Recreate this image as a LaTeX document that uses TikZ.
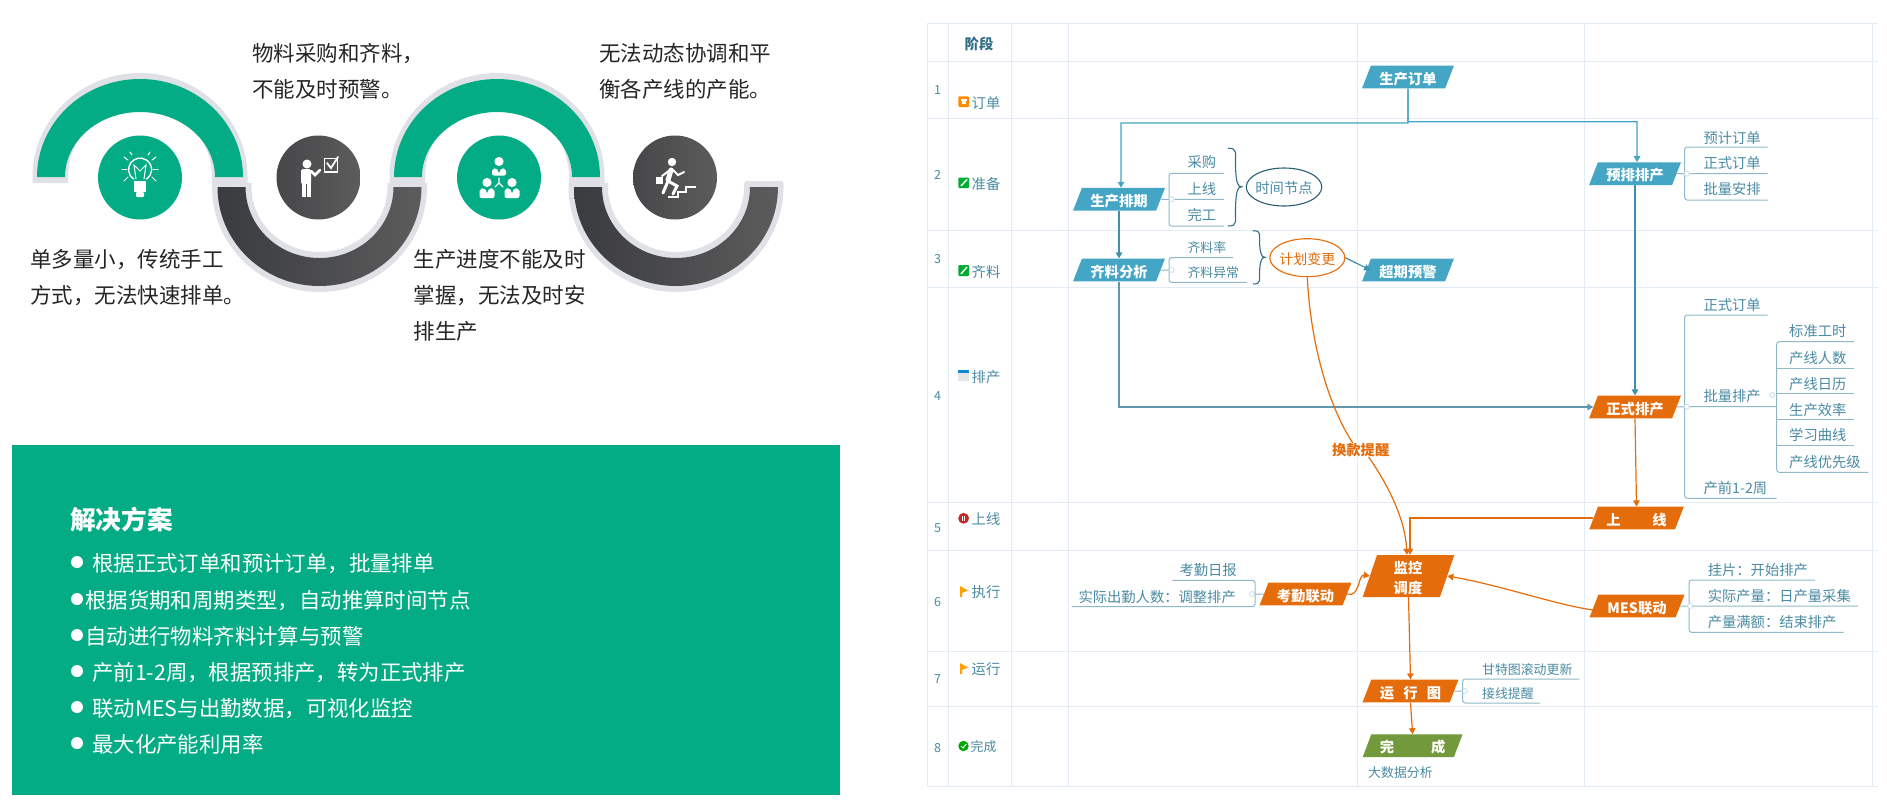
\documentclass[tikz,border=0pt]{standalone}
\usepackage{fontspec}
\setmainfont{Noto Sans CJK SC}
\usetikzlibrary{arrows.meta,shapes.geometric,calc}
\definecolor{cgreen}{HTML}{03AC84}
\definecolor{cring}{HTML}{DFE1E6}
\definecolor{cdarkL}{HTML}{3A3B3F}
\definecolor{cdarkM}{HTML}{555555}
\definecolor{cdarkR}{HTML}{5C5C5C}
\definecolor{cblue}{HTML}{45A5C4}
\definecolor{corange}{HTML}{E46C0A}
\definecolor{colive}{HTML}{729A3D}
\definecolor{cgrid}{HTML}{E3EBF5}
\definecolor{cteal}{HTML}{4A8BA3}
\definecolor{cbranch}{HTML}{8FB9C9}
\definecolor{cflow}{HTML}{3F90AC}
\definecolor{cflowd}{HTML}{5F97AB}
\definecolor{cnavy}{HTML}{2F6F86}
\definecolor{cpale}{HTML}{C8DDE7}
\tikzset{
  big/.style={font=\fontsize{21.5}{36}\selectfont,anchor=west,align=left,inner sep=0pt,text=black!85,yshift=-1.5pt},
  itemtext/.style={font=\fontsize{21.4}{24}\selectfont,anchor=west,inner sep=0pt,text=white,yshift=-1.5pt},
  lbl/.style={font=\fontsize{14.3}{16}\selectfont,anchor=west,inner sep=0pt,text=cteal,yshift=-1pt},
  lblsmall/.style={font=\fontsize{12.9}{15}\selectfont,anchor=west,inner sep=0pt,text=cteal,yshift=-1pt},
  rownum/.style={font=\fontsize{12.5}{14}\selectfont,inner sep=0pt,text=cteal,yshift=-1pt},
  parashape/.style={trapezium,trapezium left angle=64,trapezium right angle=116,trapezium stretches=true,
    minimum height=22.7pt,minimum width=92pt,inner sep=0pt,text=white,
    font=\fontsize{14.3}{20}\bfseries\selectfont},
  para/.style={parashape,text height=14pt,text depth=0pt},
  paratext/.style={inner sep=0pt,text=white,yshift=-1pt,font=\fontsize{14.3}{20}\bfseries\selectfont},
  grid/.style={draw=cgrid,line width=0.9pt},
  branch/.style={draw=cbranch,line width=1pt,rounded corners=2.5pt},
  tick/.style={circle,draw=cpale,fill=white,line width=0.8pt,minimum size=5pt,inner sep=0pt},
  flow/.style={draw=cblue,line width=1.2pt,-{Triangle[length=6pt,width=6.5pt]}},
  flowo/.style={draw=corange,line width=1.2pt,-{Triangle[length=6pt,width=6.5pt]}},
  icon/.style={draw=white,line width=1.4pt,line cap=round},
  ovalshape/.style={ellipse,line width=1.1pt,inner sep=0pt,minimum height=38pt},
}
\newcommand\upperarc[2]{%
  \fill[cring] ({#1-107.5},183) -- ({#1-107.5},#2) arc[start angle=180,end angle=0,x radius=107.5pt,y radius=104pt]
     -- ({#1+107.5},183) -- ({#1+72},183) -- ({#1+72},#2) arc[start angle=0,end angle=180,x radius=72pt,y radius=72pt]
     -- ({#1-72},183) -- cycle;
  \fill[cgreen] ({#1-103},#2) arc[start angle=180,end angle=0,x radius=103pt,y radius=98pt]
     -- ({#1+75},#2) arc[start angle=0,end angle=180,x radius=75pt,y radius=65pt] -- cycle;
}
\newcommand\lowerarc[2]{%
  \fill[cring] ({#1-107.5},183) -- ({#1-107.5},#2) arc[start angle=180,end angle=360,x radius=107.5pt,y radius=105pt]
     -- ({#1+107.5},183) -- ({#1+68},183) -- ({#1+68},#2) arc[start angle=360,end angle=180,x radius=68pt,y radius=65pt]
     -- ({#1-68},183) -- cycle;
  \shade[left color=cdarkL,middle color=cdarkM,right color=cdarkR] ({#1-102},#2) arc[start angle=180,end angle=360,x radius=102pt,y radius=99pt]
     -- ({#1+74},#2) arc[start angle=360,end angle=180,x radius=74pt,y radius=71pt] -- cycle;
}
\newcommand\curly[5]{%
  \draw[cnavy,line width=1.1pt] (#1,#3) .. controls ({#1+.75*(#2-#1)},#3) and ({#1+.5*(#2-#1)},{#3+4})
    .. ({#1+.55*(#2-#1)},{(#3+#4)/2}) .. controls ({#1+.6*(#2-#1)},{#4-4}) and ({#1+.7*(#2-#1)},#4) .. (#2,#4)
    .. controls ({#1+.7*(#2-#1)},#4) and ({#1+.6*(#2-#1)},{#4+4})
    .. ({#1+.55*(#2-#1)},{(#4+#5)/2}) .. controls ({#1+.5*(#2-#1)},{#5-4}) and ({#1+.75*(#2-#1)},#5) .. (#1,#5);
}
\newcommand\bracketline[6]{%
  \coordinate (#1a) at (#4,#3); \coordinate (#1b) at (#2,#3);
  \coordinate (#1c) at (#2,#5); \coordinate (#1d) at (#6,#5);
  \draw[branch] (#1a) -- (#1b) -- (#1c) -- (#1d);
}
\newcommand\bust[5]{%
  \fill[white] (#1,#2) circle[radius=4.6pt];
  \fill[white,rounded corners=2pt] ({#1-#5},#4) -- ({#1-#5},#3) -- ({#1-2},{#3-1}) -- (#1,{#3+5}) -- ({#1+2},{#3-1}) -- ({#1+#5},#3) -- ({#1+#5},#4) -- cycle;
}
\begin{document}
\begin{tikzpicture}[x=1pt,y=-1pt]
\useasboundingbox (0,0) rectangle (1887,807);
\fill[white] (0,0) rectangle (1887,807);
%%%% Left: wave
\upperarc{140}{177}
\upperarc{497}{177}
\lowerarc{319.5}{187}
\lowerarc{676}{187}
\fill[cring] (745,181) rectangle (783,187);
\node[circle,minimum size=84pt,inner sep=0pt,fill=cgreen] (c1) at (140,177.5) {};
\shade[left color=cdarkL!55!cdarkM,right color=cdarkR] (318.5,177.5) circle[radius=42pt];
\node[circle,minimum size=84pt,inner sep=0pt,fill=cgreen] (c3) at (499,177.5) {};
\shade[left color=cdarkL!55!cdarkM,right color=cdarkR] (675,177.5) circle[radius=42pt];
% bulb
\draw[icon] (133.5,179) arc[start angle=235,end angle=-55,radius=11.5pt];
\draw[icon,line width=1pt] (136,179) -- (134,165) -- (140,171) -- (146,165) -- (144,179);
\fill[white] (134,181) rectangle (146,192);
\fill[white,rounded corners=1pt] (136,192) rectangle (144,197);
\foreach \a/\b/\c/\d in {122/169/127/169, 158/169/153/169, 124/157/128/160, 156/157/152/160, 124/181/128/177, 156/181/152/177, 130/152/132/155, 150/152/148/155}
  \draw[icon,line width=1pt] (\a,\b) -- (\c,\d);
% presenter
\fill[white] (307,164) circle[radius=4.5pt];
\fill[white,rounded corners=1.5pt] (301,169) rectangle (311,184);
\fill[white] (302,183) rectangle (306,197);
\fill[white] (307,183) rectangle (311,197);
\draw[icon,line width=2.5pt] (311,171) -- (315,175) -- (320,170);
\draw[icon,line width=1.2pt,line cap=butt] (324.5,158.5) rectangle (337.5,172);
\draw[icon,line width=1.8pt] (327,163) -- (331,168) -- (338,157);
% org chart
\bust{499}{161.5}{169}{175.5}{7}
\bust{487}{182.5}{189}{198}{7.5}
\bust{512}{182.5}{189}{198}{7.5}
\draw[icon,line width=1.3pt] (499,178) -- (499,183) -- (495,187);
\draw[icon,line width=1.3pt] (499,183) -- (503,187);
% runner
\fill[white] (672,162) circle[radius=4.2pt];
\draw[icon,line width=5pt] (671,170) -- (668,180);
\draw[icon,line width=3pt] (668,181) -- (677,186) -- (673,194);
\draw[icon,line width=3pt] (668,181) -- (663,193);
\draw[icon,line width=2pt] (672,169) -- (678,175) -- (684,172);
\draw[icon,line width=2pt] (670,170) -- (662,176);
\fill[white] (656,177) rectangle (663,184);
\draw[icon,line width=2pt,line cap=butt] (668,197) -- (678,197) -- (678,192) -- (686,192) -- (686,187) -- (696,187);
% left texts
\node[big] (t1) at (30,276) {单多量小，传统手工\\方式，无法快速排单。};
\node[big] (t2) at (252,69.5) {物料采购和齐料，\\不能及时预警。};
\node[big] (t3) at (413.5,294) {生产进度不能及时\\掌握，无法及时安\\排生产};
\node[big] (t4) at (599,69.5) {无法动态协调和平\\衡各产线的产能。};
%%%% Solution panel
\fill[cgreen] (12,445) rectangle (839.5,795);
\node[anchor=west,inner sep=0pt,text=white,yshift=-1.5pt,font=\fontsize{25.7}{28}\bfseries\selectfont] (sol) at (70,518) {解决方案};
\foreach \yy in {562,599,635,671,707,743} \fill[white] (77,\yy) circle[radius=6pt];
\node[itemtext] (i1) at (92,562) {根据正式订单和预计订单，批量排单};
\node[itemtext] (i2) at (85,599) {根据货期和周期类型，自动推算时间节点};
\node[itemtext] (i3) at (85,635) {自动进行物料齐料计算与预警};
\node[itemtext] (i4) at (92,671) {产前1-2周，根据预排产，转为正式排产};
\node[itemtext] (i5) at (92,707) {联动MES与出勤数据，可视化监控};
\node[itemtext] (i6) at (92,743) {最大化产能利用率};
%%%% Grid
\foreach \xx in {927.3,948.3,1011.7,1068.3,1357.3,1584,1872.7} \draw[grid] (\xx,23.3) -- (\xx,786.7);
\foreach \yy in {23.3,61.7,118.3,230,287.3,502.7,550.7,651.3,706,786.7} \draw[grid] (927.3,\yy) -- (1878,\yy);
\node[text=cnavy,inner sep=0pt,yshift=-1pt,font=\fontsize{14.3}{16}\bfseries\selectfont] (hdr) at (979,42.7) {阶段};
\node[rownum] (n1) at (937.7,89) {1};
\node[rownum] (n2) at (937.7,174) {2};
\node[rownum] (n3) at (937.7,258) {3};
\node[rownum] (n4) at (937.7,395) {4};
\node[rownum] (n5) at (937.7,526.7) {5};
\node[rownum] (n6) at (937.7,600.7) {6};
\node[rownum] (n7) at (937.7,678) {7};
\node[rownum] (n8) at (937.7,746.7) {8};
\node[lbl] (s1) at (971.5,101.7) {订单};
\node[lbl] (s2) at (971.5,182.7) {准备};
\node[lbl] (s3) at (971.5,270.7) {齐料};
\node[lbl] (s4) at (971.5,376) {排产};
\node[lbl] (s5) at (971.5,518.3) {上线};
\node[lbl] (s6) at (971.5,590.7) {执行};
\node[lbl] (s7) at (971.5,667.7) {运行};
\node[lblsmall] (s8) at (970.5,746) {完成};
% stage icons
\fill[orange!90!yellow,rounded corners=1pt] (958.3,96.3) rectangle (969,107);
\fill[white] (960.5,99) rectangle (967,100.5); \fill[white] (961.5,100.5) rectangle (966,103.5);
\fill[green!60!black!80!cyan,rounded corners=1pt] (958.3,177.5) rectangle (969,188);
\draw[white,line width=1.4pt] (961,186) -- (967,179.5);
\fill[green!60!black!80!cyan,rounded corners=1pt] (958.3,265) rectangle (969,276);
\draw[white,line width=1.4pt] (961,274) -- (967,267);
\fill[black!10] (958.3,370) rectangle (969,381);
\fill[cyan!70!blue] (958.3,369.5) rectangle (969,373);
\fill[red!75!black!85!white] (963.6,518.3) circle[radius=5.4pt];
\fill[white] (961.8,515.5) rectangle (963,521); \fill[white] (964.2,515.5) rectangle (965.4,521);
\foreach \fy in {586,663} {
  \fill[orange!75!yellow] (960,\fy) -- (968,{\fy+4.5}) -- (962,{\fy+7}) -- (962,{\fy+11}) -- (960,{\fy+11}) -- cycle;
}
\fill[green!65!black] (963.5,746) circle[radius=5.2pt];
\draw[white,line width=1pt] (961,746) -- (963,748) -- (966.3,744);
%%%% Flow nodes
\node[para,fill=cblue] (order) at (1408,77) {生产订单};
\node[para,fill=cblue] (plan) at (1119,199.3) {生产排期};
\node[para,fill=cblue] (mat) at (1119,270) {齐料分析};
\node[para,fill=cblue] (warn) at (1408,270) {超期预警};
\node[para,fill=cblue] (pre) at (1635,173.7) {预排排产};
\node[para,fill=corange] (formal) at (1635,407) {正式排产};
\node[para,fill=corange,minimum width=95pt] (online) at (1636.5,518) {上\hspace{31.5pt}线};
\node[para,fill=corange] (att) at (1305.5,594) {考勤联动};
\node[parashape,fill=corange,minimum height=42pt] (mon) at (1408.5,576) {\phantom{监控}};
\node[paratext] (mon1) at (1408,566.7) {监控};
\node[paratext] (mon2) at (1408,586.7) {调度};
\node[para,fill=corange,minimum width=95pt] (mes) at (1637,606) {MES联动};
\node[para,fill=corange,minimum width=96pt] (run) at (1410.5,691) {运\hspace{9.3pt}行\hspace{9.3pt}图};
\node[para,fill=colive,minimum width=100pt] (done) at (1412.6,745.7) {完\hspace{37pt}成};
\node[lblsmall] (bd) at (1368,772) {大数据分析};
% ellipses
\node[ovalshape,draw=cnavy!85!black,minimum width=75.5pt,label={[text=cteal,inner sep=0pt,yshift=-1pt,font=\fontsize{14.3}{16}\selectfont]center:时间节点}] (tn) at (1284,187) {};
\node[ovalshape,draw=corange,minimum width=75pt,label={[text=corange,inner sep=0pt,yshift=-1pt,font=\fontsize{14}{16}\selectfont]center:计划变更}] (cp) at (1307.3,257.7) {};
\node[inner sep=0pt,text=corange,yshift=-1pt,font=\fontsize{14.3}{16}\bfseries\selectfont] (hk) at (1360.7,449) {换款提醒};
%%%% Flow connectors
\coordinate (o1) at (1408,123);
\coordinate (o2) at (1408,121.7);
\draw[flow] (order.south) -- (o1) -| ([xshift=2pt]plan.north);
\draw[flow] (order.south) -- (o2) -| ([xshift=2pt]pre.north);
\draw[flow,draw=cflow] (plan.south) -- (mat.north);
\draw[flow,draw=cflowd,line width=1.5pt] (mat.south) |- (formal.west);
\draw[flow,draw=cflow] (pre.south) -- (formal.north);
\draw[flowo] (formal.south) -- (online.north);
\draw[flowo] (online.west) -| ([xshift=1.5pt]mon.north);
\draw[flow,draw=cflow] (cp.east) -- ([xshift=4pt]warn.west);
\draw[draw=corange,line width=1.2pt] (cp.south) .. controls (1310,335) and (1325,400) .. ([xshift=-8pt]hk.north);
\draw[flowo] ([xshift=8pt]hk.south) .. controls (1390,488) and (1405,520) .. ([xshift=-1.5pt]mon.north);
\draw[flowo] (att.east) .. controls (1360,598) and (1358,574) .. (mon.west);
\draw[flowo] ([yshift=-4pt]mes.west) .. controls (1560,606) and (1500,585) .. (mon.east);
\draw[flowo] (mon.south) -- (run.north);
\draw[flowo] (run.south) -- (done.north);
%%%% Branches: plan
\node[lbl] (b1) at (1187.3,161.3) {采购};
\node[lbl] (b2) at (1187.3,187.7) {上线};
\node[lbl] (b3) at (1187.3,213.7) {完工};
\bracketline{pb}{1169}{173.3}{1224}{226}{1224}
\node[tick] (pt) at (1171.7,199.3) {};
\coordinate (pe) at (1224,199.3);
\draw[branch] (plan.east) -- (pt) -- (pe);
\curly{1228}{1241.7}{148.3}{186.7}{226}
%%%% Branches: material
\node[lblsmall] (m1) at (1187.3,247) {齐料率};
\node[lblsmall] (m2) at (1187.3,271.3) {齐料异常};
\bracketline{mb}{1169}{257.7}{1233}{282.3}{1246.7}
\node[tick] (mt) at (1171.7,270) {};
\draw[branch] (mat.east) -- (mt);
\curly{1253}{1265}{230.7}{257.3}{284}
%%%% Branches: pre
\node[lbl] (r1) at (1703.3,136.7) {预计订单};
\node[lbl] (r2) at (1703.3,162) {正式订单};
\node[lbl] (r3) at (1703.3,188.3) {批量安排};
\bracketline{rb}{1684.7}{147}{1767.7}{200}{1767.7}
\node[tick] (rt) at (1686.7,173.7) {};
\coordinate (re) at (1767.7,173.7);
\draw[branch] (pre.east) -- (rt) -- (re);
%%%% Branches: formal
\node[lbl] (f1) at (1703.3,304) {正式订单};
\node[lbl] (f2) at (1703.3,395) {批量排产};
\node[lbl] (f3) at (1703.3,486.7) {产前1-2周};
\bracketline{fb}{1684.7}{315}{1767.7}{498.3}{1776.7}
\node[tick] (ft) at (1686.7,406.7) {};
\coordinate (fe) at (1776.7,406.7);
\draw[branch] (formal.east) -- (ft) -- (fe);
\node[tick] (gt) at (1772.3,395) {};
\node[lbl] (g1) at (1789,330) {标准工时};
\node[lbl] (g2) at (1789,356.7) {产线人数};
\node[lbl] (g3) at (1789,382.7) {产线日历};
\node[lbl] (g4) at (1789,408.7) {生产效率};
\node[lbl] (g5) at (1789,434.3) {学习曲线};
\node[lbl] (g6) at (1789,460.7) {产线优先级};
\bracketline{gb}{1776.7}{341.7}{1854}{472.3}{1868.3}
\foreach \yy/\nm in {368/a,393.7/b,419.7/c,445.7/d} {
  \coordinate (gl\nm) at (1776.7,\yy); \coordinate (gr\nm) at (1854,\yy);
  \draw[branch] (gl\nm) -- (gr\nm);
}
%%%% Branches: attendance
\node[lbl] (a1) at (1179.3,569) {考勤日报};
\node[lbl] (a2) at (1078.3,595.7) {实际出勤人数：调整排产};
\bracketline{ab}{1255}{580.3}{1172.3}{606.7}{1071.7}
\node[tick] (at) at (1252,594) {};
\draw[branch] (att.west) -- (at);
%%%% Branches: MES
\node[lbl] (e1) at (1707.6,569) {挂片：开始排产};
\node[lbl] (e2) at (1707.6,595) {实际产量：日产量采集};
\node[lbl] (e3) at (1707.6,621) {产量满额：结束排产};
\bracketline{eb}{1689}{580}{1814.8}{632.3}{1843.7}
\node[tick] (et) at (1690,606) {};
\coordinate (ee) at (1858,606);
\draw[branch] (mes.east) -- (et) -- (ee);
%%%% Branches: run
\node[lblsmall] (u1) at (1481.9,668.3) {甘特图滚动更新};
\node[lblsmall] (u2) at (1481.9,692.3) {接线提醒};
\bracketline{ub}{1462.7}{679}{1579.3}{703}{1540}
\node[tick] (ut) at (1465,691) {};
\draw[branch] (run.east) -- (ut);
\end{tikzpicture}
\end{document}
